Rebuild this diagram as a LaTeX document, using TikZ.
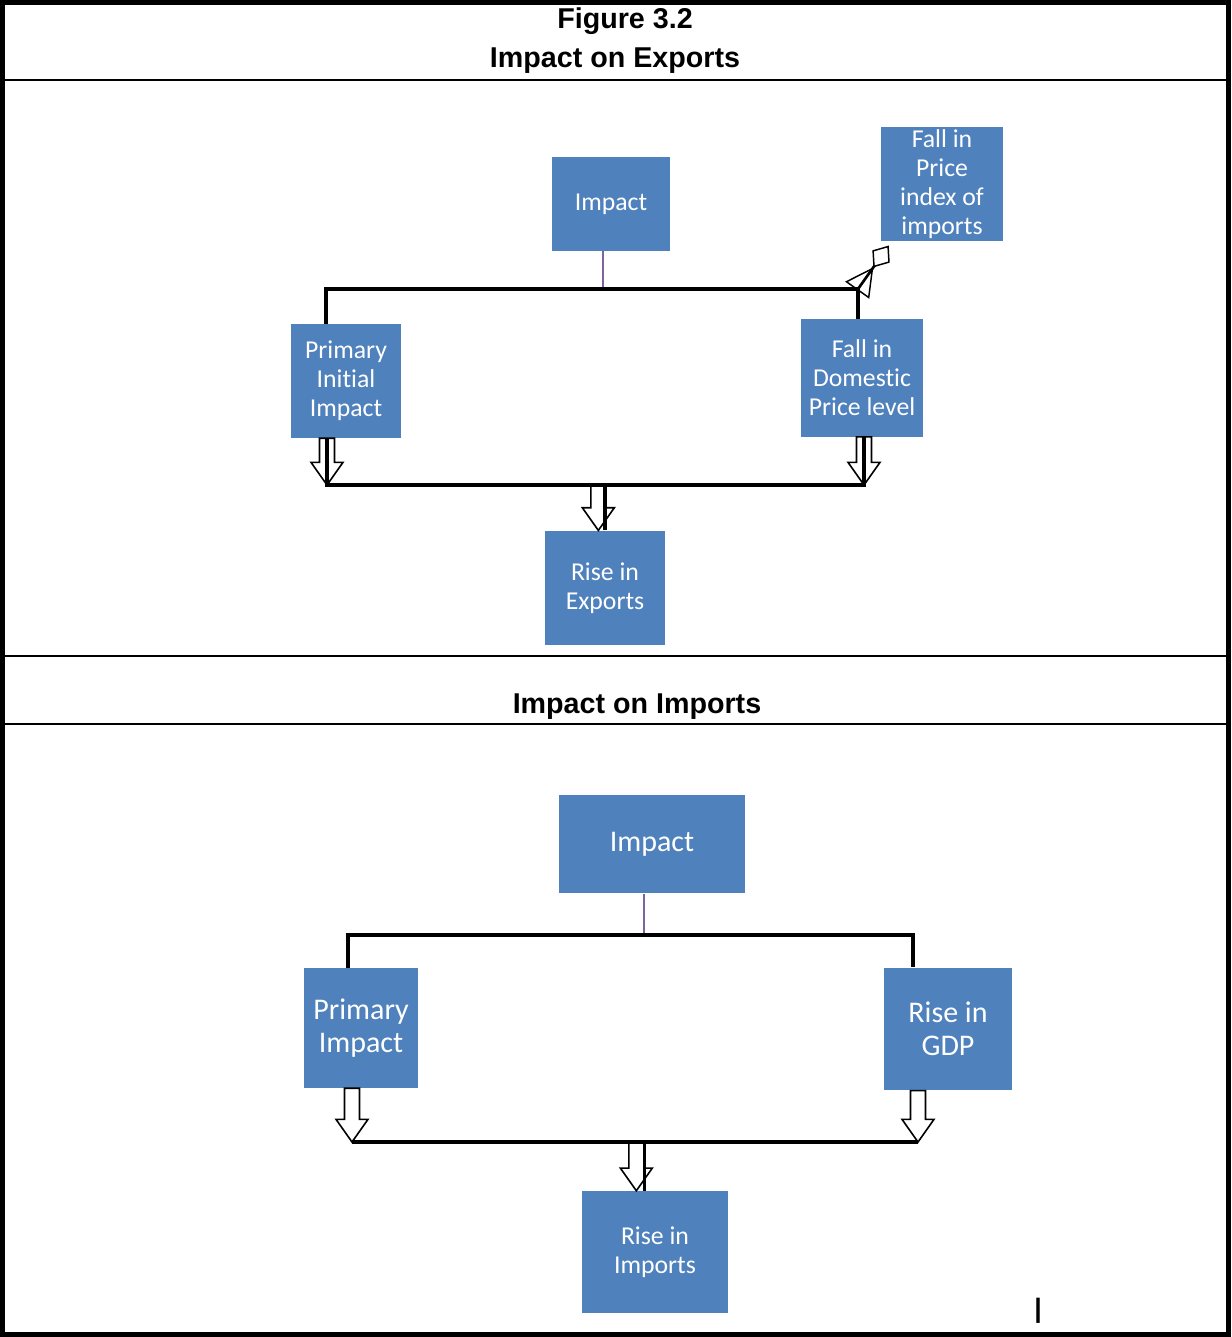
\documentclass[tikz,border=0pt]{standalone}
\usepackage{fontspec}
\setmainfont{Liberation Sans}
\newfontfamily\boxfont[Ligatures=NoCommon]{Carlito}
\usetikzlibrary{arrows.meta,calc,positioning}
\definecolor{boxblue}{HTML}{4F81BD}
\definecolor{linkpurple}{HTML}{7E649E}

% hollow block arrow pointing down, from #1 to #2
\newcommand{\hollowarrow}[2]{%
  \draw[hollow] let \p1=#1, \p2=#2 in
    (\x1-5.6pt,\y1) -- (\x1-5.6pt,\y2+17pt) -- (\x1-12pt,\y2+17pt) -- (\x1,\y2)
    -- (\x1+12pt,\y2+17pt) -- (\x1+5.6pt,\y2+17pt) -- (\x1+5.6pt,\y1) -- cycle;}

\begin{document}
\begin{tikzpicture}[x=0.75pt,y=-0.75pt]
    \tikzstyle{block}=[rectangle,fill=boxblue,text=white,align=center,inner sep=0pt,font=\boxfont\fontsize{19.3}{21.8}\selectfont]
    \tikzstyle{bigblock}=[block,font=\boxfont\fontsize{22.5}{24.8}\selectfont]
    \tikzstyle{conn}=[line width=2.4pt,black]
    \tikzstyle{purp}=[line width=1.4pt,linkpurple]
    \tikzstyle{hollow}=[line width=1.2pt,fill=white,line join=miter]
    \tikzstyle{title}=[font=\bfseries\fontsize{21.5}{24}\selectfont]

    % table frame
    \useasboundingbox (0,0) rectangle (1231,1337);
    \draw[line width=3.6pt] (2.5,2.5) rectangle (1228.5,1334.5);
    \foreach \y in {80,656,724}
        \draw[line width=1.8pt] (0,\y) -- (1231,\y);

    \node[title] (fig) at (625,21) {Figure 3.2};
    \node[title] (expT) at (615,61) {Impact on Exports};
    \node[title] (impT) at (637,707) {Impact on Imports};

    % exports diagram
    \node[block,minimum width=88.5pt,minimum height=70.5pt] (impA) at (611,204) {Impact};
    \node[block,minimum width=91.5pt,minimum height=86pt] (priceA) at (942,184) {Fall in\\Price\\index of\\imports};
    \node[block,minimum width=82pt,minimum height=85.5pt] (primA) at (346,381) {Primary\\Initial\\Impact};
    \node[block,minimum width=91.5pt,minimum height=88pt] (domA) at (862,378) {Fall in\\Domestic\\Price level};
    \node[block,minimum width=90pt,minimum height=86pt] (expA) at (605,588) {Rise in\\Exports};

    \coordinate (busAL) at (326,289);
    \coordinate (busAR) at (858,289);
    \coordinate (busBL) at (327,485);
    \coordinate (busBR) at (864,485);

    \draw[purp] ([xshift=-6pt]impA.south) -- ([xshift=-6pt]impA.south |- busAL);
    \draw[conn] (primA.north -| busAL) -- (busAL) -- (busAR) -- (domA.north -| busAR);
    \draw[line width=2pt,-{Triangle[open,length=21pt,width=22pt,line width=1.1pt] Diamond[open,length=20pt,width=16pt,line width=1.1pt]}]
        (busAR) -- ([shift={(8,4)}]priceA.south west);

    \hollowarrow{(primA.south -| busBL)}{(busBL)}
    \hollowarrow{(domA.south -| busBR)}{(busBR)}
    \hollowarrow{([xshift=-5pt]expA.north |- busBL)}{([xshift=-5pt]expA.north)}
    \draw[conn] (primA.south -| busBL) -- (busBL) -- (busBR) -- (domA.south -| busBR);
    \draw[conn] (expA.north) -- (expA.north |- busBL);

    % imports diagram
    \node[bigblock,minimum width=139.5pt,minimum height=74pt] (impB) at (652,844) {Impact};
    \node[bigblock,minimum width=85.5pt,minimum height=90pt] (primB) at (361,1028) {Primary\\Impact};
    \node[bigblock,minimum width=96pt,minimum height=92pt] (gdpB) at (948,1029) {Rise in\\GDP};
    \node[block,minimum width=110pt,minimum height=91.5pt] (impsB) at (655,1252) {Rise in\\Imports};

    \coordinate (busCL) at (348,935);
    \coordinate (busCR) at (913,935);
    \coordinate (busDL) at (352,1142);
    \coordinate (busDR) at (918,1142);

    \draw[purp] ([xshift=-6pt]impB.south) -- ([xshift=-6pt]impB.south |- busCL);
    \draw[conn] (primB.north -| busCL) -- (busCL) -- (busCR) -- (gdpB.north -| busCR);

    \hollowarrow{(primB.south -| busDL)}{(busDL)}
    \hollowarrow{(gdpB.south -| busDR)}{(busDR)}
    \hollowarrow{([xshift=-14pt]impsB.north |- busDL)}{([xshift=-14pt]impsB.north)}
    \draw[conn] (busDL) -- (busDR);
    \draw[conn] ([xshift=-8pt]impsB.north) -- ([xshift=-8pt]impsB.north |- busDL);

    \node[font=\bfseries\fontsize{20}{22}\selectfont] (bar) at (1038,1311) {|};
\end{tikzpicture}
\end{document}
